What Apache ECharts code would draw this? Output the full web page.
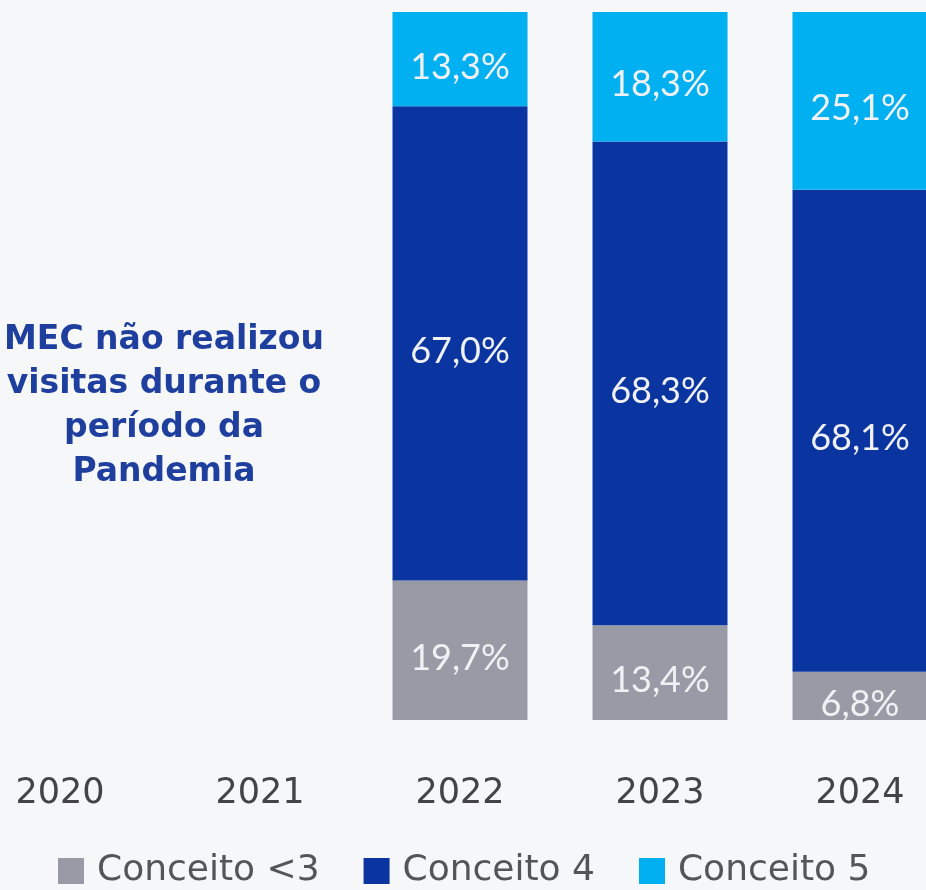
<!DOCTYPE html>
<html>
<head>
<meta charset="utf-8">
<script src="https://cdn.jsdelivr.net/npm/echarts@6/dist/echarts.min.js"></script>
<style>
  html, body { margin: 0; padding: 0; background: #f6f7f9; overflow: hidden; }
  /* chart is wider than the window: 2020 and 2024 are cut off at the edges */
  #main { position: absolute; left: -40px; top: 0; width: 1001px; height: 890px; }
</style>
</head>
<body>
<div id="main"></div>
<script>
const years = ["2020", "2021", "2022", "2023", "2024"];
// sem dados em 2020 e 2021 (pandemia)
const conceitoMenor3 = [null, null, 19.7, 13.4, 6.8];
const conceito4 = [null, null, 67.0, 68.3, 68.1];
const conceito5 = [null, null, 13.3, 18.3, 25.1];
const seriesNames = ["Conceito <3", "Conceito 4", "Conceito 5"];
const colors = ["#989ba5", "#0a34a0", "#00b0f0"];
const noteLines = ["MEC não realizou", "visitas durante o", "período da", "Pandemia"];

const font = "'DejaVu Sans', sans-serif";
const numFont = "Lato, sans-serif";

function makeSeries(name, data, color) {
  return {
    name: name,
    type: "bar",
    stack: "total",
    barWidth: 135,
    data: data,
    itemStyle: { color: color },
    label: {
      show: true,
      position: "inside",
      offset: [0, 8],
      color: "#f0f1f4",
      fontFamily: numFont,
      fontSize: 36,
      fontWeight: "normal",
      formatter: function (p) {
        return p.value == null ? "" : p.value.toFixed(1).replace(".", ",") + "%";
      }
    }
  };
}

const chart = echarts.init(document.getElementById("main"));
chart.setOption({
  backgroundColor: "#f6f7f9",
  animation: false,
  color: colors,
  grid: { left: 0, right: 1, top: 12, bottom: 170 },
  legend: {
    bottom: 1,
    left: 98,
    padding: 0,
    itemWidth: 26,
    itemHeight: 26,
    itemGap: 44,
    icon: "rect",
    textStyle: { fontFamily: font, fontSize: 36, color: "#555", padding: [0, 0, 0, 8] },
    data: seriesNames
  },
  xAxis: {
    type: "category",
    data: years,
    axisLine: { show: false },
    axisTick: { show: false },
    axisLabel: { margin: 56, fontFamily: font, fontSize: 35, color: "#444" }
  },
  yAxis: { type: "value", min: 0, max: 100, show: false },
  graphic: [{
    type: "text",
    x: 204,
    y: 318,
    style: {
      text: noteLines.join("\n"),
      align: "center",
      fill: "#1f3f9f",
      font: "bold 33px " + font,
      lineHeight: 44
    }
  }],
  series: [
    makeSeries(seriesNames[0], conceitoMenor3, colors[0]),
    makeSeries(seriesNames[1], conceito4, colors[1]),
    makeSeries(seriesNames[2], conceito5, colors[2])
  ]
});
</script>
</body>
</html>
